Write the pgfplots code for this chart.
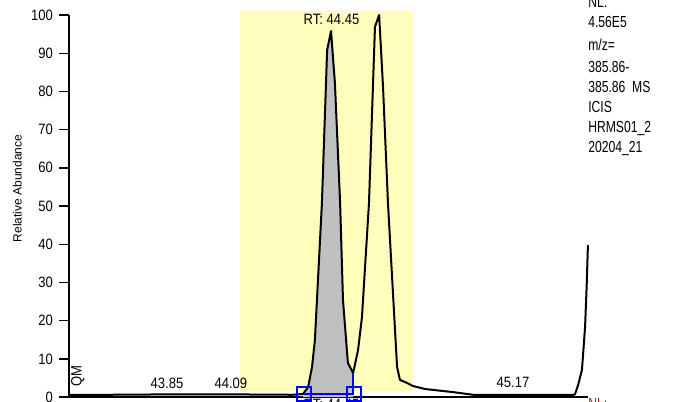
\documentclass[border=0pt]{standalone}
\usepackage{pgfplots}
\pgfplotsset{compat=1.18}
\usepackage{fontspec}
\setmainfont{Liberation Sans}[FakeStretch=0.87]
\newfontfamily\plainfont{Liberation Sans}
\newfontfamily\narrowfont{Liberation Sans}[FakeStretch=0.76]
\definecolor{bandyellow}{RGB}{255,253,187}
\definecolor{peakgray}{RGB}{192,192,192}
\definecolor{nlred}{RGB}{170,30,30}
\begin{document}
\begin{tikzpicture}
\begin{axis}[
  scale only axis, width=519pt, height=382pt,
  xmin=43.4423, xmax=45.4385, ymin=0, ymax=100,
  clip=false,
  axis x line*=bottom, axis y line*=left,
  axis line style={line width=1.8pt},
  ytick={0,10,...,100}, xtick=\empty,
  tick align=outside, major tick length=10pt,
  tick style={line width=1.4pt, black},
  /pgf/number format/assume math mode=true,
  yticklabel style={font=\fontsize{15}{18}\selectfont, inner sep=2pt, xshift=-4pt},
]
% highlighted window
\addplot[fill=bandyellow, draw=none] coordinates {(44.100,1.57) (44.765,1.57) (44.765,101.05) (44.100,101.05)} --cycle;
% integrated peak area
\addplot[fill=peakgray, draw=none] coordinates {
(44.342,0) (44.342,0.8) (44.362,2.6) (44.377,7.9) (44.388,14.9) (44.415,50.8) (44.435,90.8) (44.450,95.8)
(44.465,82.2) (44.485,50.8) (44.496,25.4) (44.515,8.9) (44.535,6.3) (44.535,0)} --cycle;
% chromatogram trace
\addplot[black, line width=2pt, line join=round] coordinates {
(43.4423,0.6) (43.60,0.6) (43.82,0.7) (44.07,0.7) (44.30,0.6) (44.342,0.8) (44.362,2.6) (44.377,7.9)
(44.388,14.9) (44.415,50.8) (44.435,90.8) (44.450,95.8) (44.465,82.2) (44.485,50.8) (44.496,25.4)
(44.515,8.9) (44.535,6.3) (44.554,12.3) (44.569,20.9) (44.596,50.8) (44.619,96.9) (44.635,100)
(44.650,81.2) (44.669,50.8) (44.704,7.9) (44.715,4.5) (44.742,3.7) (44.765,2.9) (44.812,2.1)
(44.919,1.3) (44.996,0.6) (45.17,0.6) (45.381,0.6) (45.388,0.7) (45.400,3.1) (45.415,7.1)
(45.427,18.3) (45.433,28.8) (45.438,39.8)};
% integration markers
\addplot[blue, line width=1.5pt] coordinates {(44.535,0.8) (44.535,6.3)};
\addplot[blue, line width=1.5pt, mark=square, mark size=7pt, mark options={line width=1.5pt}] coordinates {(44.346,0.8) (44.538,0.8)};
% labels
\node[anchor=base, font=\fontsize{15}{18}\selectfont] at (axis cs:44.452,97.64) {RT: 44.45};
\node[anchor=base, font=\fontsize{15}{18}\selectfont] at (axis cs:43.819,2.36) {43.85};
\node[anchor=base, font=\fontsize{15}{18}\selectfont] at (axis cs:44.065,2.36) {44.09};
\node[anchor=base, font=\fontsize{15}{18}\selectfont] at (axis cs:45.150,2.62) {45.17};
\node[rotate=90, anchor=base west, font=\fontsize{15}{18}\selectfont, inner sep=0pt] at (axis cs:43.491,2.62) {QM};
\node[rotate=90, font=\plainfont\fontsize{12}{14}\selectfont] at (axis cs:43.244,54.58) {Relative Abundance};
% right-hand info
\begin{scope}[every node/.style={anchor=base west, inner sep=0pt, font=\narrowfont\fontsize{16}{18}\selectfont}]
\node at (axis cs:45.4385,102.09) {NL:};
\node at (axis cs:45.4385,96.86) {4.56E5};
\node at (axis cs:45.4385,90.84) {m/z=};
\node at (axis cs:45.4385,85.08) {385.86-};
\node at (axis cs:45.4385,79.84) {385.86\ \ MS};
\node at (axis cs:45.4385,74.61) {ICIS};
\node at (axis cs:45.4385,69.37) {HRMS01\_2};
\node at (axis cs:45.4385,64.14) {20204\_21};
\end{scope}
% cut-off text of the panel below
\node[anchor=base, font=\fontsize{15}{18}\selectfont] at (axis cs:44.452,-3.14) {RT: 44.45};
\node[anchor=base west, inner sep=0pt, text=nlred, font=\narrowfont\fontsize{16}{18}\selectfont] at (axis cs:45.4385,-3.14) {NL:};
\coordinate (bl) at (axis cs:43.177,-1.047);
\coordinate (tr) at (axis cs:45.769,103.93);
\end{axis}
\pgfresetboundingbox
\path[use as bounding box] (bl) rectangle (tr);
\end{tikzpicture}
\end{document}
